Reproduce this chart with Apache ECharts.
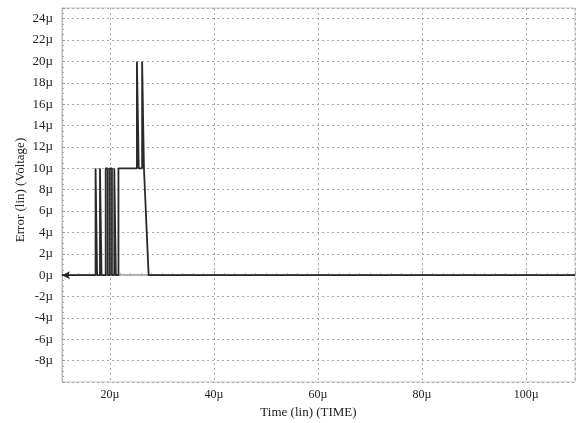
<!DOCTYPE html>
<html>
<head>
<meta charset="utf-8">
<script src="https://cdn.jsdelivr.net/npm/echarts@6/dist/echarts.min.js"></script>
<style>
  html, body { margin: 0; padding: 0; background: #fff; }
  #chart { width: 577px; height: 423px; }
</style>
</head>
<body>
<div id="chart"></div>
<script>
// time in µs, error in µV
var timeUs = [10.8, 17.25, 17.25, 17.55, 17.55, 18.1, 18.1, 18.4, 18.4, 19.2, 19.2, 19.6, 19.6,
  20.0, 20.0, 20.4, 20.4, 20.85, 20.85, 21.15, 21.15, 21.65, 21.65, 25.2, 25.2, 25.55, 25.55,
  26.2, 26.2, 26.55, 26.55, 26.8, 27.45, 109.4];
var errorUv = [0, 0, 10, 10, 0, 0, 10, 10, 0, 0, 10, 10, 0,
  0, 10, 10, 0, 0, 10, 10, 0, 0, 10, 10, 20, 20, 10,
  10, 20, 20, 10, 10, 0, 0];

var xRange = [10.8, 109.4];
var yRange = [-10, 25];

var serif = '"Liberation Serif", "DejaVu Serif", serif';

var chart = echarts.init(document.getElementById('chart'));

var points = timeUs.map(function (t, i) {
  if (i === 0) {
    // arrow marker at the start of the trace
    return { value: [t, errorUv[i]], symbol: 'arrow', symbolSize: [6, 8], symbolRotate: 90,
      itemStyle: { color: '#222' } };
  }
  return { value: [t, errorUv[i]], symbol: 'none' };
});

var option = {
  animation: false,
  grid: {
    left: 62, right: 2, top: 8, bottom: 41,
    outerBoundsMode: 'none',
    containLabel: false,
    show: true, borderColor: '#c8c8c8', borderWidth: 1
  },
  xAxis: {
    type: 'value',
    min: xRange[0], max: xRange[1],
    minInterval: 20, maxInterval: 20,
    name: 'Time (lin) (TIME)',
    nameLocation: 'middle',
    nameGap: 23,
    nameTextStyle: { fontFamily: serif, fontSize: 13, color: '#222', padding: [0, 20, 0, 0] },
    axisLine: { show: true, lineStyle: { color: '#b0b0b0', width: 2 } },
    axisTick: { show: true, inside: true, length: 4, lineStyle: { color: '#999' } },
    minorTick: { show: true, splitNumber: 10, length: 2, lineStyle: { color: '#aaa' } },
    axisLabel: {
      showMinLabel: false, showMaxLabel: false,
      fontFamily: serif, fontSize: 12, color: '#222', margin: 7,
      formatter: function (v) { return v + 'µ'; }
    },
    splitLine: { show: true, lineStyle: { color: '#a8a8a8', type: [2, 3], width: 1 } }
  },
  yAxis: {
    type: 'value',
    min: yRange[0], max: yRange[1],
    interval: 2,
    name: 'Error (lin) (Voltage)',
    nameLocation: 'middle',
    nameGap: 35,
    nameMoveOverlap: false,
    nameRotate: 90,
    nameTextStyle: { fontFamily: serif, fontSize: 13, color: '#222', padding: [0, 0, 0, 10] },
    axisLine: { show: true, lineStyle: { color: '#b8b8b8', width: 1 } },
    axisTick: { show: true, inside: true, length: 3, lineStyle: { color: '#999' } },
    minorTick: { show: true, splitNumber: 4, length: 2, lineStyle: { color: '#aaa' } },
    axisLabel: {
      showMinLabel: false, showMaxLabel: false,
      fontFamily: serif, fontSize: 13, color: '#222', margin: 9,
      formatter: function (v) { return v + 'µ'; }
    },
    splitLine: { show: true, lineStyle: { color: '#a8a8a8', type: [2, 3], width: 1 } }
  },
  series: [{
    type: 'line',
    data: points,
    showSymbol: true,
    lineStyle: { color: '#2a2a2a', width: 1.8 },
    itemStyle: { color: '#2a2a2a' }
  }]
};

chart.setOption(option);
</script>
</body>
</html>
